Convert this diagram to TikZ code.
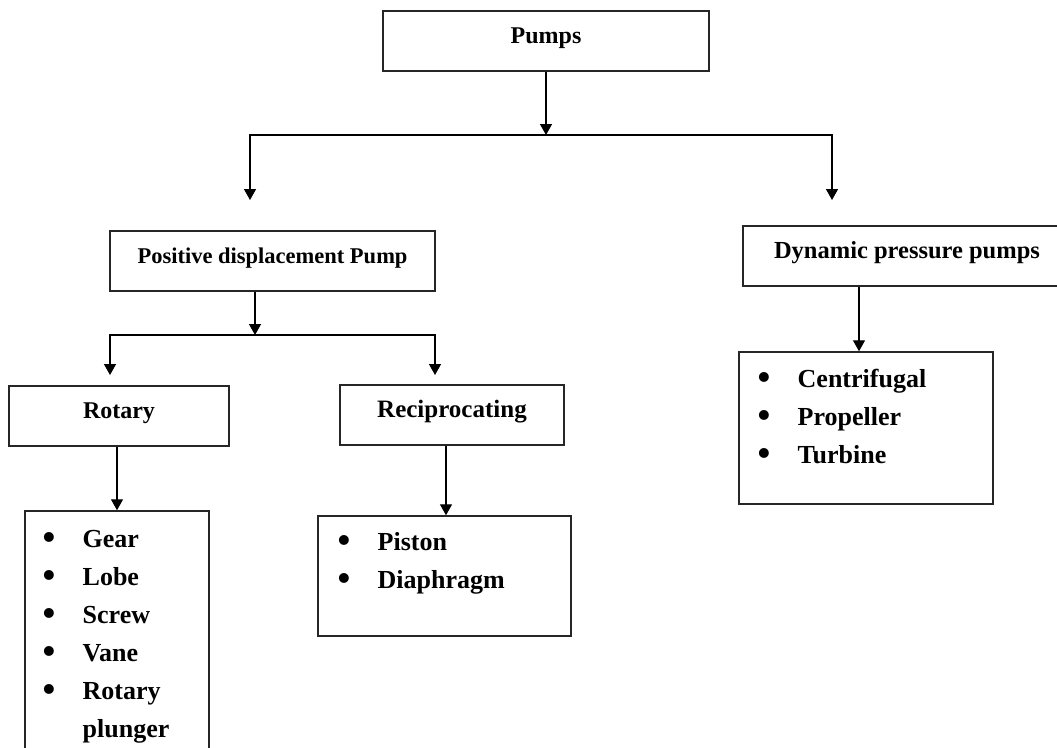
\documentclass[tikz,border=0pt]{standalone}
\usepackage{fontspec}
\setmainfont{Liberation Serif}
\usetikzlibrary{arrows.meta}
\tikzset{box/.style={draw=black!85,line width=1.5pt,rectangle,inner sep=0pt,
		minimum height=60pt,text height=32pt,text depth=28pt,
		font=\bfseries\fontsize{24}{28}\selectfont},
	listbox/.style={draw=black!85,line width=1.5pt,rectangle,inner sep=0pt},
	items/.style={inner sep=0pt,anchor=base west,
		font=\bfseries\fontsize{26}{38}\selectfont},
	link/.style={draw,line width=1.4pt,-{Triangle[length=11pt,width=12pt]}}}
\newcommand{\bul}{\makebox[40pt][l]{\raisebox{-2.5pt}{\scalebox{1.4}{\textbullet}}}}

\begin{document}
\begin{tikzpicture}[x=1pt,y=-1pt]
		\useasboundingbox (0,0) rectangle (1057,747);
		\begin{scope}[every node/.style={box}]
			\node[minimum width=326pt] (pumps) at (546,41) {Pumps};
			\node[minimum width=325pt,font=\bfseries\fontsize{22.5}{28}\selectfont] (posdisp) at (272.5,261) {Positive displacement Pump};
			\node[minimum width=328pt,font=\bfseries\fontsize{24.5}{28}\selectfont] (dynamic) at (907,256) {Dynamic pressure pumps};
			\node[minimum width=220pt] (rotary) at (119,416) {Rotary};
			\node[minimum width=224pt,font=\bfseries\fontsize{25}{28}\selectfont] (recip) at (452,415) {Reciprocating};
		\end{scope}
		\begin{scope}[every node/.style={listbox}]
			\node[minimum width=184pt,minimum height=249pt] (rotlist) at (117,635.5) {};
			\node[minimum width=253pt,minimum height=120pt] (reclist) at (444.5,576) {};
			\node[minimum width=254pt,minimum height=152pt] (dynlist) at (866,428) {};
		\end{scope}
		\node[items] (rotitems) at (42.5,547) {\begin{tabular}[t]{@{}l@{}l@{}}
				\bul & Gear\\ \bul & Lobe\\ \bul & Screw\\ \bul & Vane\\ \bul & Rotary\\ & plunger
			\end{tabular}};
		\node[items] (recitems) at (337.5,550) {\begin{tabular}[t]{@{}l@{}l@{}}
				\bul & Piston\\ \bul & Diaphragm
			\end{tabular}};
		\node[items] (dynitems) at (757.5,387) {\begin{tabular}[t]{@{}l@{}l@{}}
				\bul & Centrifugal\\ \bul & Propeller\\ \bul & Turbine
			\end{tabular}};
		% branch points
		\coordinate (split1) at (546,135);
		\coordinate (tipL) at (250,200);
		\coordinate (tipR) at (832,200);
		\coordinate (split2) at (255,335);
		\coordinate (tipRot) at (110,375);
		\coordinate (tipRec) at (435,375);
		\begin{scope}[every path/.style={link}]
			\path (pumps.south) -- (split1);
			\path (split1) -| (tipL);
			\path (split1) -| (tipR);
			\path (posdisp.south -| split2) -- (split2);
			\path (split2) -| (tipRot);
			\path (split2) -| (tipRec);
			\path (rotlist.north |- rotary.south) -- (rotlist.north);
			\path ([xshift=1.5pt]reclist.north |- recip.south) -- ([xshift=1.5pt]reclist.north);
			\path ([xshift=-7pt]dynlist.north |- dynamic.south) -- ([xshift=-7pt]dynlist.north);
		\end{scope}
	\end{tikzpicture}
\end{document}
